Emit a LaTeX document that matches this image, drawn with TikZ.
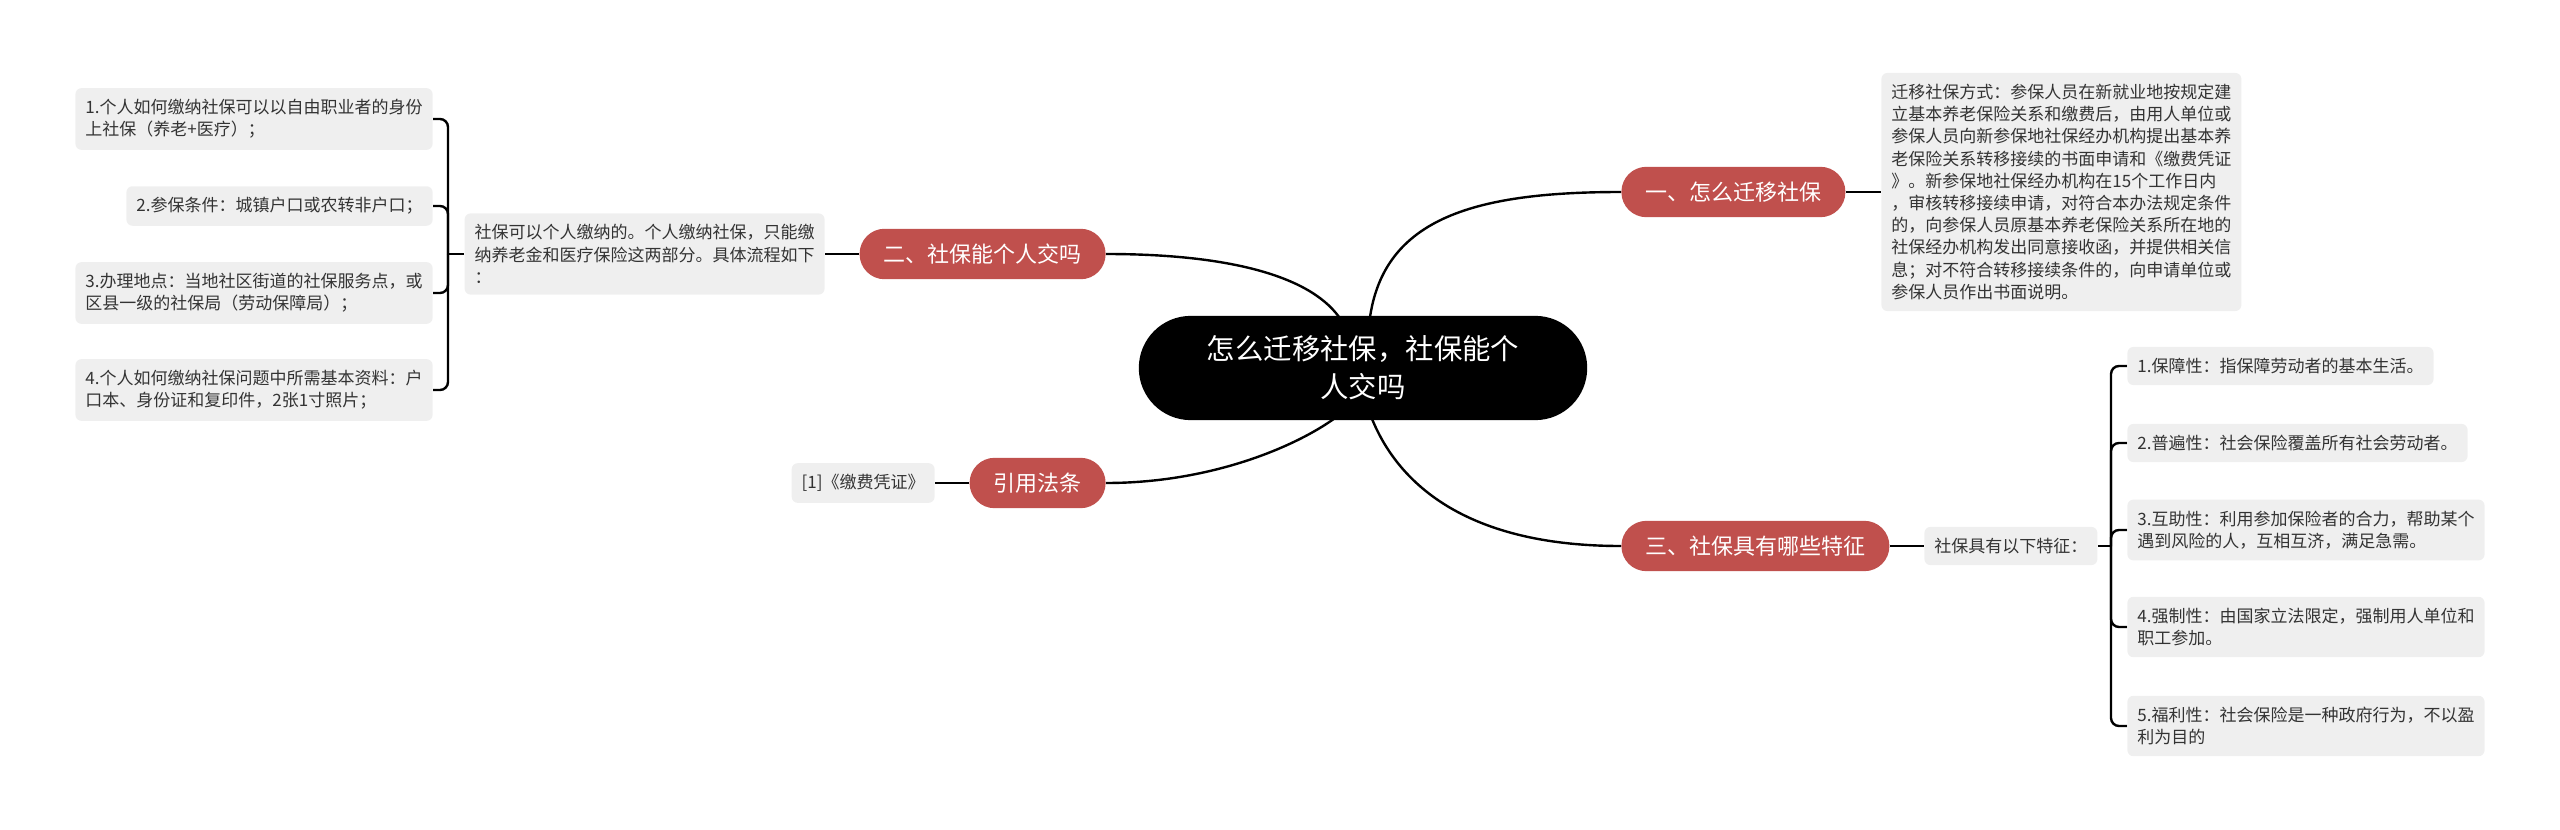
\documentclass[tikz,border=0pt]{standalone}
\usepackage{fontspec}
\setmainfont{Noto Sans CJK SC}
\usetikzlibrary{backgrounds}
\definecolor{branchred}{HTML}{C0504D}
\definecolor{leafgray}{HTML}{EFEFEF}
\definecolor{inkgray}{HTML}{333333}

\begin{document}
\begin{tikzpicture}[x=0.5pt,y=-0.5pt,
    link/.style={line width=1.2pt},
    root/.style={fill=black,text=white,align=center,rounded corners=26pt,
        inner xsep=34pt,inner ysep=10pt,font=\fontsize{14.2pt}{19pt}\selectfont},
    branch/.style={fill=branchred,text=white,rounded corners=12.5pt,
        inner xsep=12pt,inner ysep=7.5pt,font=\fontsize{11pt}{13pt}\selectfont},
    leaf/.style={fill=leafgray,text=inkgray,align=left,rounded corners=3pt,
        inner xsep=5pt,inner ysep=5.6pt,font=\fontsize{8.5pt}{11.1pt}\selectfont}
]
\useasboundingbox (0,0) rectangle (2560,830);

\node[root] (root) at (1363,368) {怎么迁移社保，社保能个\\人交吗};

\node[branch,anchor=west] (move) at (1621,192) {一、怎么迁移社保};
\node[branch,anchor=east] (self) at (1106,254) {二、社保能个人交吗};
\node[branch,anchor=west] (trait) at (1621,546) {三、社保具有哪些特征};
\node[branch,anchor=east] (cite) at (1106,483) {引用法条};

\node[leaf,anchor=west] (moveinfo) at (1881,192) {迁移社保方式：参保人员在新就业地按规定建\\立基本养老保险关系和缴费后，由用人单位或\\参保人员向新参保地社保经办机构提出基本养\\老保险关系转移接续的书面申请和《缴费凭证\\》。新参保地社保经办机构在15个工作日内\\，审核转移接续申请，对符合本办法规定条件\\的，向参保人员原基本养老保险关系所在地的\\社保经办机构发出同意接收函，并提供相关信\\息；对不符合转移接续条件的，向申请单位或\\参保人员作出书面说明。};

\node[leaf,anchor=east] (selfinfo) at (825,254) {社保可以个人缴纳的。个人缴纳社保，只能缴\\纳养老金和医疗保险这两部分。具体流程如下\\：};
\node[leaf,anchor=east] (step1) at (433,119) {1.个人如何缴纳社保可以以自由职业者的身份\\上社保（养老+医疗）；};
\node[leaf,anchor=east] (step2) at (433,206) {2.参保条件：城镇户口或农转非户口；};
\node[leaf,anchor=east] (step3) at (433,293) {3.办理地点：当地社区街道的社保服务点，或\\区县一级的社保局（劳动保障局）；};
\node[leaf,anchor=east] (step4) at (433,390) {4.个人如何缴纳社保问题中所需基本资料：户\\口本、身份证和复印件，2张1寸照片；};

\node[leaf,anchor=east] (citeinfo) at (935,483) {[1]《缴费凭证》};

\node[leaf,anchor=west] (traitinfo) at (1924,546) {社保具有以下特征：};
\node[leaf,anchor=west] (f1) at (2127,366) {1.保障性：指保障劳动者的基本生活。};
\node[leaf,anchor=west] (f2) at (2127,443) {2.普遍性：社会保险覆盖所有社会劳动者。};
\node[leaf,anchor=west] (f3) at (2127,530) {3.互助性：利用参加保险者的合力，帮助某个\\遇到风险的人，互相互济，满足急需。};
\node[leaf,anchor=west] (f4) at (2127,627) {4.强制性：由国家立法限定，强制用人单位和\\职工参加。};
\node[leaf,anchor=west] (f5) at (2127,726) {5.福利性：社会保险是一种政府行为，不以盈\\利为目的};

\coordinate (selfjoint) at (448,254);
\coordinate (traitjoint) at (2111,546);

\begin{scope}[on background layer]
% curves out of the root
\draw[link] (root.center) ++(6,-43) .. controls +(11,-105) and +(-151,0) .. (move.west);
\draw[link] (root.center) ++(6,43) .. controls +(21,59) and +(-171,0) .. (trait.west);
\draw[link] (root.center) ++(-19,-43) .. controls +(-24,-45) and +(134,0) .. (self.east);
\draw[link] (root.center) ++(-19,43) .. controls +(-34,29) and +(114,0) .. (cite.east);

\draw[link] (move.east) -- (moveinfo.west);
\draw[link] (self.west) -- (selfinfo.east);
\draw[link] (trait.east) -- (traitinfo.west);
\draw[link] (cite.west) -- (citeinfo.east);

% brackets
\draw[link] (selfinfo.west) -- (selfjoint);
\foreach \s in {step1,step2,step3,step4}
    \draw[link,rounded corners=4pt] (selfjoint) |- (\s.east);
\draw[link] (traitinfo.east) -- (traitjoint);
\foreach \f in {f1,f2,f3,f4,f5}
    \draw[link,rounded corners=4pt] (traitjoint) |- (\f.west);
\end{scope}
\end{tikzpicture}
\end{document}
